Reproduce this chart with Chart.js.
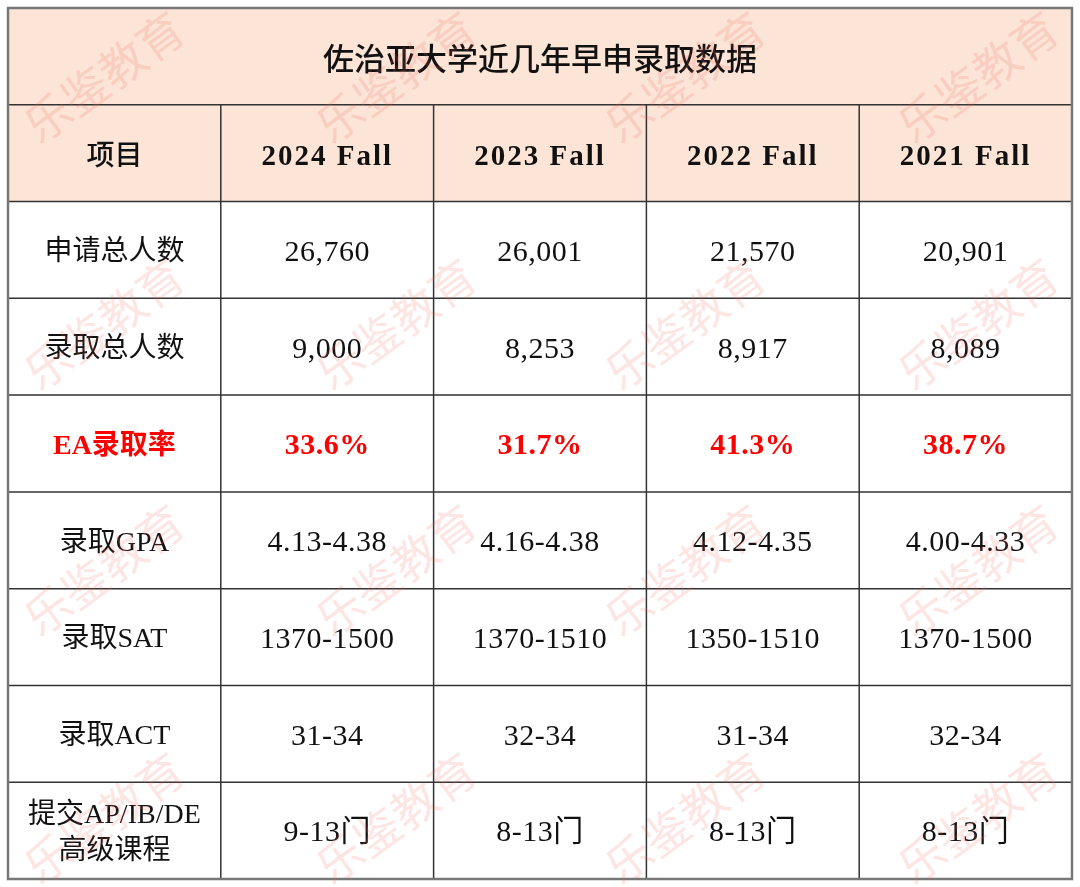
<!DOCTYPE html>
<html lang="zh">
<head>
<meta charset="utf-8">
<script src="https://cdn.jsdelivr.net/npm/chart.js@4.4.1/dist/chart.umd.min.js"></script>
<style>
  html, body { margin: 0; padding: 0; background: #fff; }
  #wrap { width: 1080px; height: 887px; }
</style>
</head>
<body>
<div id="wrap"><canvas id="ea-table"></canvas></div>
<script>
const title = "佐治亚大学近几年早申录取数据";
const columns = ["项目", "2024 Fall", "2023 Fall", "2022 Fall", "2021 Fall"];
const items = ["申请总人数", "录取总人数", "EA录取率", "录取GPA", "录取SAT", "录取ACT", "提交AP/IB/DE\n高级课程"];
const applicants = [26760, 26001, 21570, 20901];
const admitted = [9000, 8253, 8917, 8089];
const eaRate = [33.6, 31.7, 41.3, 38.7];
const gpaRange = ["4.13-4.38", "4.16-4.38", "4.12-4.35", "4.00-4.33"];
const satRange = ["1370-1500", "1370-1510", "1350-1510", "1370-1500"];
const actRange = ["31-34", "32-34", "31-34", "32-34"];
const apCourses = ["9-13门", "8-13门", "8-13门", "8-13门"];

const fmt = n => n.toLocaleString("en-US");
const rowValues = [
    applicants.map(fmt),
    admitted.map(fmt),
    eaRate.map(v => v.toFixed(1) + "%"),
    gpaRange, satRange, actRange, apCourses
];
const rowLabels = [title, columns[0], ...items];

// one point per cell, the scales place it
const cells = [{x: columns[2], y: title, text: title, kind: "title"}];
columns.forEach((c, i) => cells.push({x: c, y: columns[0], text: c, kind: i ? "year" : "head"}));
items.forEach((item, r) => {
    const kind = r === 2 ? "ea" : "body";
    cells.push({x: columns[0], y: item, text: item, kind: kind});
    rowValues[r].forEach((v, c) => cells.push({x: columns[c + 1], y: item, text: v, kind: kind, val: true}));
});

const PEACH = "#fce4d6";
const LATIN = '"Liberation Serif", "Noto Sans CJK SC"';

const tablePlugin = {
    id: "tableGrid",
    beforeDatasetsDraw(chart) {
        const ctx = chart.ctx, xs = chart.scales.x, ys = chart.scales.y;
        const colW = xs.getPixelForValue(1) - xs.getPixelForValue(0);
        const rowH = ys.getPixelForValue(1) - ys.getPixelForValue(0);
        const left = xs.getPixelForValue(0) - colW / 2;
        const right = xs.getPixelForValue(columns.length - 1) + colW / 2;
        const top = ys.getPixelForValue(0) - rowH / 2;
        const bottom = ys.getPixelForValue(rowLabels.length - 1) + rowH / 2;

        ctx.save();
        ctx.fillStyle = PEACH;
        ctx.fillRect(left, top, right - left, rowH * 2);

        ctx.strokeStyle = "#333";
        ctx.lineWidth = 1.5;
        ctx.beginPath();
        for (let i = 1; i < rowLabels.length; i++) {
            const y = ys.getPixelForValue(i) - rowH / 2;
            ctx.moveTo(left, y); ctx.lineTo(right, y);
        }
        const headTop = ys.getPixelForValue(1) - rowH / 2;
        for (let c = 1; c < columns.length; c++) {
            const x = xs.getPixelForValue(c) - colW / 2;
            ctx.moveTo(x, headTop); ctx.lineTo(x, bottom);
        }
        ctx.stroke();

        ctx.strokeStyle = "#777";
        ctx.lineWidth = 2.5;
        ctx.strokeRect(left, top, right - left, bottom - top);
        ctx.restore();
    },
    afterDatasetsDraw(chart) {
        const ctx = chart.ctx;
        const meta = chart.getDatasetMeta(0);
        const data = chart.data.datasets[0].data;
        ctx.save();
        ctx.textAlign = "center";
        ctx.textBaseline = "middle";
        meta.data.forEach((pt, i) => {
            const d = data[i];
            let dy = 3;
            ctx.letterSpacing = d.val ? "0.5px" : "0px";
            ctx.fillStyle = "#111";
            const size = d.val ? 30 : 28;
            if (d.kind === "title") {
                ctx.font = '500 31px "Noto Sans CJK SC"';
                dy = 2;
            } else if (d.kind === "head") {
                ctx.font = "500 28px " + LATIN;
                dy = 4;
            } else if (d.kind === "year") {
                ctx.font = "bold 29px " + LATIN;
                ctx.letterSpacing = "2px";
                dy = 4;
            } else if (d.kind === "ea") {
                ctx.font = "bold " + size + "px " + LATIN;
                ctx.fillStyle = "#ff0000";
            } else {
                ctx.font = size + "px " + LATIN;
            }
            const lines = d.text.split("\n");
            const lh = 36;
            lines.forEach((ln, k) => {
                ctx.fillText(ln, pt.x, pt.y + dy + (k - (lines.length - 1) / 2) * lh);
            });
        });

        // watermark
        ctx.font = '46px "Noto Sans CJK SC"';
        ctx.fillStyle = "rgba(236, 100, 90, 0.17)";
        ctx.letterSpacing = "0px";
        [104, 396, 685, 978].forEach(wx => {
            [77, 324, 570, 818].forEach(wy => {
                ctx.save();
                ctx.translate(wx, wy);
                ctx.rotate(-36 * Math.PI / 180);
                ctx.fillText("乐鉴教育", 0, 0);
                ctx.restore();
            });
        });
        ctx.restore();
    }
};

new Chart("ea-table", {
    type: "scatter",
    data: {
        datasets: [{
            data: cells,
            pointRadius: 0,
            pointHoverRadius: 0
        }]
    },
    options: {
        responsive: true,
        maintainAspectRatio: false,
        animation: false,
        layout: {padding: {left: 8, right: 8, top: 8, bottom: 8}},
        plugins: {legend: {display: false}, tooltip: {enabled: false}},
        events: [],
        scales: {
            x: {type: "category", labels: columns, offset: true, display: false},
            y: {type: "category", labels: rowLabels, offset: true, display: false}
        }
    },
    plugins: [tablePlugin]
});
</script>
</body>
</html>
